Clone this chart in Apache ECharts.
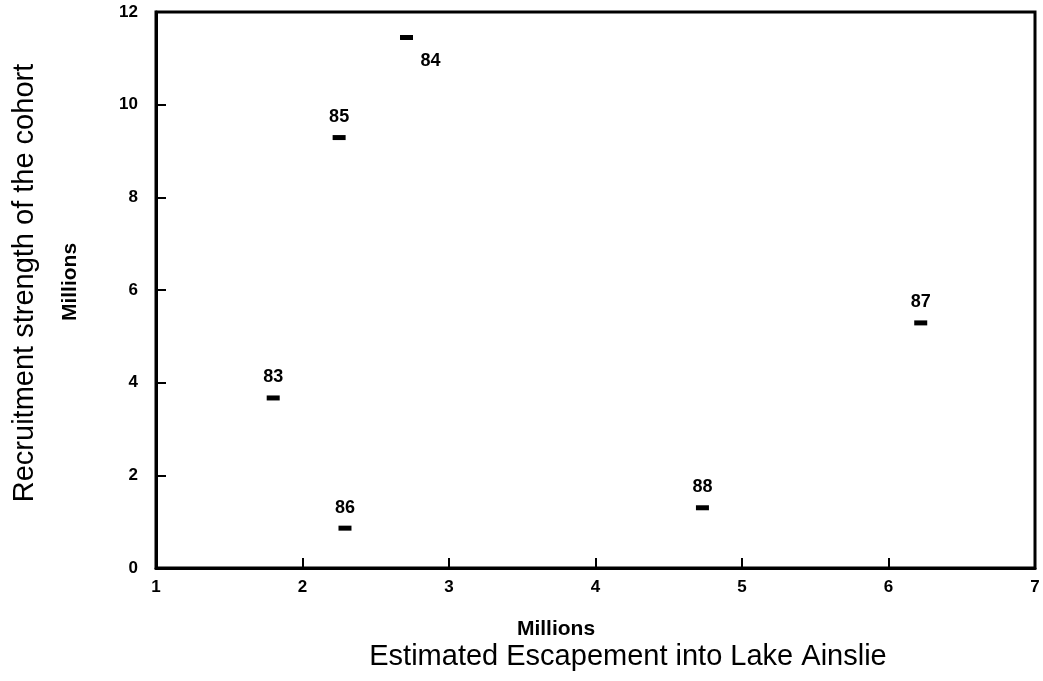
<!DOCTYPE html>
<html>
<head>
<meta charset="utf-8">
<script src="https://cdn.jsdelivr.net/npm/echarts@6/dist/echarts.min.js"></script>
<style>
  html, body { margin: 0; padding: 0; background: #fff; }
  #chart { width: 1043px; height: 681px; }
</style>
</head>
<body>
<div id="chart"></div>
<script>
// brood years and their points
var years = ['83', '84', '85', '86', '87', '88'];
var escapement = [1.80, 2.71, 2.25, 2.29, 6.22, 4.73];   // millions
var recruitment = [3.67, 11.45, 9.29, 0.86, 5.29, 1.30]; // millions

var font = '"Liberation Sans", Arial, sans-serif';

var points = years.map(function (y, i) {
  var item = { value: [escapement[i], recruitment[i]], name: y };
  // 84 has its label below and to the right
  if (y === '84') {
    item.label = { position: 'bottom', distance: 12, offset: [24, 0] };
  }
  return item;
});

var myChart = echarts.init(document.getElementById('chart'));
var option = {
  animation: false,
  grid: {
    left: 156, right: 8, top: 12, bottom: 113,
    show: true, borderColor: '#000', borderWidth: 3
  },
  xAxis: {
    type: 'value', min: 1, max: 7, interval: 1,
    axisLine: { show: true, lineStyle: { color: '#000', width: 3 } },
    axisTick: { show: true, inside: true, length: 10, lineStyle: { color: '#000', width: 2 } },
    axisLabel: { color: '#000', fontSize: 17, fontWeight: 'bold', fontFamily: font, margin: 11 },
    splitLine: { show: false }
  },
  yAxis: {
    type: 'value', min: 0, max: 12, interval: 2,
    axisLine: { show: true, lineStyle: { color: '#000', width: 3 } },
    axisTick: { show: true, inside: true, length: 10, lineStyle: { color: '#000', width: 2 } },
    axisLabel: { color: '#000', fontSize: 17, fontWeight: 'bold', fontFamily: font, margin: 18 },
    splitLine: { show: false }
  },
  series: [
    {
      type: 'scatter',
      symbol: 'rect',
      symbolSize: [13, 5],
      itemStyle: { color: '#000', opacity: 1 },
      label: {
        show: true,
        position: 'top',
        distance: 9,
        formatter: '{b}',
        color: '#000',
        fontSize: 18,
        fontWeight: 'bold',
        fontFamily: font
      },
      data: points
    }
  ],
  graphic: [
    {
      type: 'text',
      rotation: Math.PI / 2,
      x: 25, y: 283,
      style: {
        text: 'Recruitment strength of the cohort',
        font: '29px ' + font, fill: '#000',
        textAlign: 'center', textVerticalAlign: 'middle'
      }
    },
    {
      type: 'text',
      rotation: Math.PI / 2,
      x: 70, y: 282,
      style: {
        text: 'Millions',
        font: 'bold 21px ' + font, fill: '#000',
        textAlign: 'center', textVerticalAlign: 'middle'
      }
    },
    {
      type: 'text',
      x: 556, y: 629,
      style: {
        text: 'Millions',
        font: 'bold 21px ' + font, fill: '#000',
        textAlign: 'center', textVerticalAlign: 'middle'
      }
    },
    {
      type: 'text',
      x: 628, y: 657,
      style: {
        text: 'Estimated Escapement into Lake Ainslie',
        font: '29px ' + font, fill: '#000',
        textAlign: 'center', textVerticalAlign: 'middle'
      }
    }
  ]
};
myChart.setOption(option);
</script>
</body>
</html>
